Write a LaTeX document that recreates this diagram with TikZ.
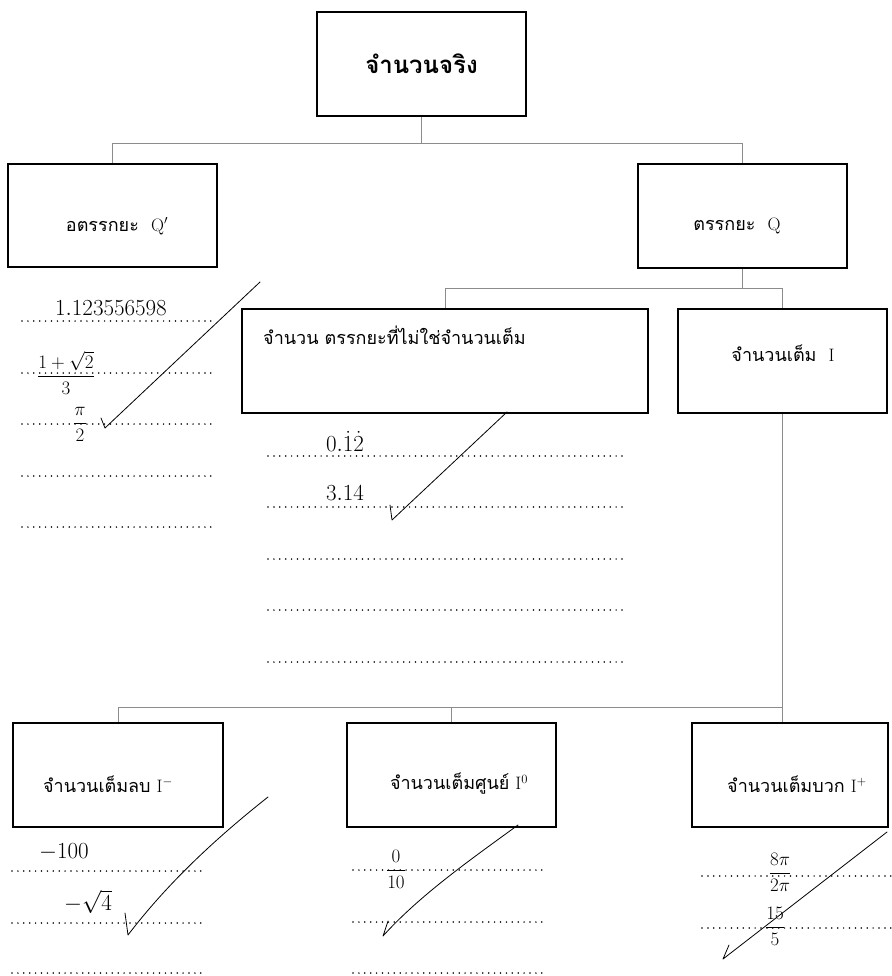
\RequirePackage{fix-cm}
\documentclass[tikz,border=0pt]{standalone}
\usepackage{amsmath}
\usepackage{fontspec}
\newfontfamily\thaifont[Script=Thai]{Loma}
\begin{document}
\begin{tikzpicture}[x=1pt,y=-1pt,
  box/.style={draw=black, line width=1.5pt, inner sep=0pt, minimum height=104pt},
  link/.style={draw=black!45, line width=0.9pt},
  answer/.style={line width=1.7pt, line cap=round, dash pattern=on 0pt off 5.9pt},
  tick/.style={line width=0.8pt, line cap=round, line join=round},
  thai/.style={font=\thaifont\fontsize{18}{22}\selectfont, inner sep=0pt},
  num/.style={font=\fontsize{23}{26}\selectfont, inner sep=0pt},
  frac/.style={font=\fontsize{19}{22}\selectfont, inner sep=0pt},
]
\useasboundingbox[fill=white] (0,0) rectangle (891,976);

% ---- boxes ----
\node[box, minimum width=209pt, font=\thaifont\bfseries\fontsize{24}{28}\selectfont] (real) at (421.5,64) {จำนวนจริง};
\node[box, minimum width=209pt, minimum height=103pt] (irr) at (112.5,215.5) {};
\node[box, minimum width=209pt] (rat) at (742.5,216) {};
\node[box, minimum width=406pt] (nonint) at (445,361) {};
\node[box, minimum width=209pt] (int) at (782.5,361) {};
\node[box, minimum width=210pt] (neg) at (118,775) {};
\node[box, minimum width=209pt] (zero) at (451.5,775) {};
\node[box, minimum width=196pt] (pos) at (790,775) {};

% ---- box captions ----
\node[thai] (irrtxt) at (117,226) {อตรรกยะ~~$\mathrm{Q}'$};
\node[thai] (rattxt) at (737,226) {ตรรกยะ~~$\mathrm{Q}$};
\node[thai, anchor=west] (noninttxt) at (263,335) {จำนวน ตรรกยะที่ไม่ใช่จำนวนเต็ม};
\node[thai] (inttxt) at (783,353) {จำนวนเต็ม~~$\mathrm{I}$};
\node[thai] (negtxt) at (108,784) {จำนวนเต็มลบ~$\mathrm{I}^{-}$};
\node[thai] (zerotxt) at (459,784) {จำนวนเต็มศูนย์~$\mathrm{I}^{0}$};
\node[thai] (postxt) at (797,784) {จำนวนเต็มบวก~$\mathrm{I}^{+}$};

% ---- connectors ----
\coordinate (j1) at (421.5,143);
\draw[link] (real.south) -- (j1);
\draw[link] (j1) -| (irr.north);
\draw[link] (j1) -| (rat.north);

\coordinate (j2) at (742.5,288);
\draw[link] (rat.south) -- (j2);
\draw[link] (j2) -| (nonint.north);
\draw[link] (j2) -| (int.north);

\coordinate (j3) at (782.5,707);
\draw[link] (int.south) -- (j3) -- (j3 |- pos.north);
\draw[link] (j3) -| (zero.north);
\draw[link] (j3) -| (neg.north);

% ---- answer lines ----
\foreach \y in {321,373,424,476,527} \draw[answer] (22,\y) -- (216,\y);
\foreach \y in {456,507,559,610,662} \draw[answer] (268,\y) -- (622,\y);
\foreach \y in {871,923,973} \draw[answer] (12,\y) -- (206,\y);
\foreach \y in {870,922,973} \draw[answer] (353,\y) -- (547,\y);
\foreach \y in {876,928} \draw[answer] (702,\y) -- (891,\y);

% ---- written answers ----
\node[num] (a1) at (111,308) {$1.123556598$};
\node[frac] (a2) at (66,373) {$\dfrac{1+\sqrt{2}}{3}$};
\node[frac] (a3) at (80,424) {$\dfrac{\pi}{2}$};
\node[num] (b1) at (345,441) {$0.\dot{1}\dot{2}$};
\node[num] (b2) at (345,493) {$3.14$};
\node[num] (c1) at (64,852) {$-100$};
\node[num] (c2) at (88,902) {$-\sqrt{4}$};
\node[frac] (d1) at (396,869) {$\dfrac{0}{10}$};
\node[frac] (e1) at (780,872) {$\dfrac{8\pi}{2\pi}$};
\node[frac] (e2) at (775,926) {$\dfrac{15}{5}$};

% ---- check marks ----
\draw[tick] (101,418) -- (105,428) -- (260,282);
\draw[tick] (390,505) -- (392,520) -- (507,412);
\draw[tick] (125,913) -- (128,935) .. controls (170,880) and (220,835) .. (268,797);
\draw[tick] (388,921) -- (383,936) .. controls (420,895) and (470,860) .. (518,825);
\draw[tick] (729,945) -- (723,959) -- (887,832);
\end{tikzpicture}
\end{document}
